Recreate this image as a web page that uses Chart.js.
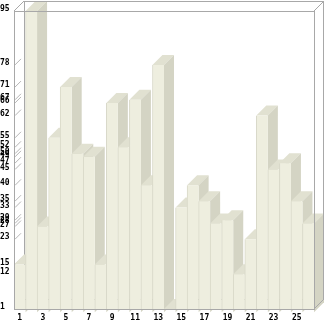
<!DOCTYPE html>
<html lang="en">
  <head>
    <meta charset="UTF-8" />
    <title>3D bars</title>
    <script src="https://cdn.jsdelivr.net/npm/chart.js@4/dist/chart.umd.min.js"></script>
  </head>
  <style>
    * {
      margin: 0;
      padding: 0;
      box-sizing: border-box;
    }
    body {
      width: 326px;
      height: 321px;
      background: #fff;
      overflow: hidden;
    }
    .wrapper {
      position: relative;
      width: 326px;
      height: 321px;
    }
  </style>
  <body>
    <div class="wrapper">
      <canvas id="bars"></canvas>
    </div>
    <script>
      const labels = ["1", "2", "3", "4", "5", "6", "7", "8", "9", "10", "11", "12", "13",
        "14", "15", "16", "17", "18", "19", "20", "21", "22", "23", "24", "25", "26"];
      const values = [15, 95, 27, 55, 71, 50, 49, 15, 66, 52, 67, 40, 78,
        1, 33, 40, 35, 28, 29, 12, 23, 62, 45, 47, 35, 28];
      const yTicks = [1, 12, 15, 23, 27, 28, 29, 33, 35, 40, 45, 47, 49, 50, 52, 55, 62, 66, 67, 71, 78, 95];

      const DX = 10;
      const DY = 10;
      const frontCol = "#eeeedf";
      const sideCol = "#d4d4c4";
      const topCol = "#e1e1d1";
      const lineCol = "#a8a8a8";

      const poly = (ctx, pts, fill) => {
        ctx.beginPath();
        ctx.moveTo(pts[0][0], pts[0][1]);
        for (let i = 1; i < pts.length; i++) ctx.lineTo(pts[i][0], pts[i][1]);
        ctx.closePath();
        ctx.fillStyle = fill;
        ctx.fill();
      };
      const line = (ctx, x1, y1, x2, y2, col) => {
        ctx.beginPath();
        ctx.moveTo(x1, y1);
        ctx.lineTo(x2, y2);
        ctx.strokeStyle = col;
        ctx.lineWidth = 1;
        ctx.stroke();
      };

      // walls, ticks, then the top + side face of each bar (fronts come from chart.js)
      const depth = {
        id: "depth",
        beforeDatasetsDraw(chart) {
          const { ctx, chartArea: a } = chart;
          const L = a.left, R = a.right, T = a.top, B = a.bottom;
          ctx.save();
          poly(ctx, [[L + DX, T - DY], [R + DX, T - DY], [R + DX, B - DY], [L + DX, B - DY]], "#fff");
          line(ctx, L + DX + 0.5, T - DY, L + DX + 0.5, B - DY, lineCol);
          line(ctx, L + DX, B - DY + 0.5, R + DX, B - DY + 0.5, lineCol);
          const ys = chart.scales.y;
          yTicks.forEach((v) => {
            const y = ys.getPixelForValue(v);
            if (v > yTicks[0] && v < yTicks[yTicks.length - 1])
              line(ctx, L + 1, y, L + 7, y - 6, "#b4b4b4");
          });
          const meta = chart.getDatasetMeta(0);
          meta.data.forEach((bar) => {
            const p = bar.getProps(["x", "y", "base", "width"], true);
            const xl = p.x - p.width / 2;
            const xr = p.x + p.width / 2;
            poly(ctx, [[xl, p.y], [xl + DX, p.y - DY], [xr + DX, p.y - DY], [xr, p.y]], topCol);
            poly(ctx, [[xr, p.y], [xr + DX, p.y - DY], [xr + DX, p.base - DY], [xr, p.base]], sideCol);
          });
          ctx.restore();
        },
        afterDatasetsDraw(chart) {
          const { ctx, chartArea: a } = chart;
          const L = a.left, R = a.right, T = a.top, B = a.bottom;
          ctx.save();
          ctx.strokeStyle = lineCol;
          ctx.lineWidth = 1;
          ctx.strokeRect(L + 0.5, T + 0.5, R - L, B - T);
          line(ctx, L, T, L + DX, T - DY, lineCol);
          line(ctx, R, T, R + DX, T - DY, lineCol);
          line(ctx, R, B, R + DX, B - DY, lineCol);
          line(ctx, L + DX, T - DY + 0.5, R + DX, T - DY + 0.5, lineCol);
          line(ctx, R + DX - 0.5, T - DY, R + DX - 0.5, B - DY, lineCol);
          ctx.restore();
        },
      };

      const tickFont = { family: "DejaVu Sans Mono", size: 8, weight: "bold" };

      new Chart(document.querySelector("#bars"), {
        type: "bar",
        plugins: [depth],
        data: {
          labels: labels,
          datasets: [
            {
              data: values,
              backgroundColor: frontCol,
              borderColor: "#d9d9c9",
              borderWidth: { left: 1, right: 0, top: 0, bottom: 0 },
              borderSkipped: false,
              categoryPercentage: 1,
              barPercentage: 1,
            },
          ],
        },
        options: {
          responsive: true,
          maintainAspectRatio: false,
          animation: false,
          events: [],
          layout: { padding: { top: 11, right: 12, left: 0, bottom: 0 } },
          plugins: {
            legend: { display: false },
            tooltip: { enabled: false },
          },
          scales: {
            x: {
              grid: { display: false, drawTicks: false },
              border: { display: false },
              afterFit: (s) => {
                s.height = 12;
              },
              ticks: {
                autoSkip: false,
                maxRotation: 0,
                padding: 4,
                color: "#000",
                font: tickFont,
                callback: (v, i) => (i % 2 === 0 ? labels[i] : ""),
              },
            },
            y: {
              min: 1,
              max: 95,
              grid: { display: false, drawTicks: false },
              border: { display: false },
              afterFit: (s) => {
                s.width = 14;
              },
              afterBuildTicks: (s) => {
                s.ticks = yTicks.map((v) => ({ value: v }));
              },
              ticks: {
                autoSkip: false,
                padding: 3,
                crossAlign: "far",
                labelOffset: -2,
                color: "#000",
                font: tickFont,
              },
            },
          },
        },
      });
    </script>
  </body>
</html>
